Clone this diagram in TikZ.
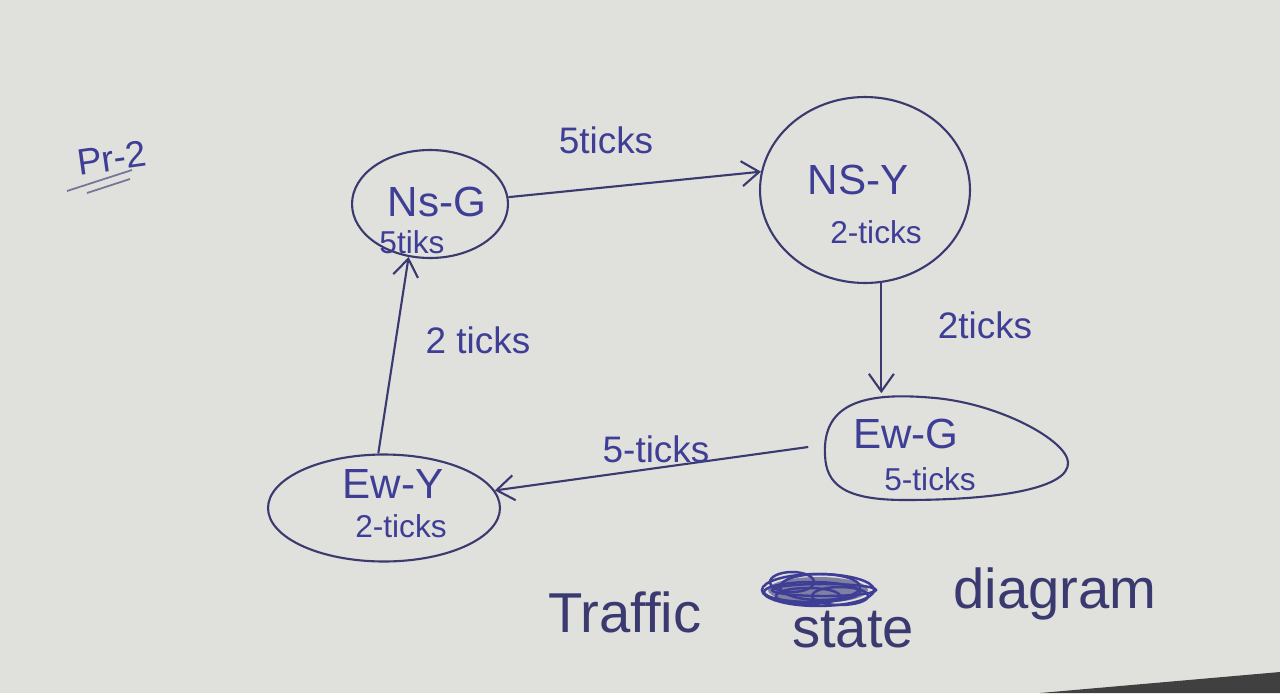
\documentclass[tikz,border=0pt]{standalone}
\usepackage{fontspec}
\setmainfont{Liberation Sans}
\usetikzlibrary{shapes.geometric,arrows.meta}
\definecolor{paper}{RGB}{224,224,220}
\definecolor{ink}{RGB}{58,58,112}
\definecolor{textink}{RGB}{62,62,150}
\tikzset{
  stateov/.style={ellipse, draw=ink, line width=1.2pt, inner sep=0pt},
  stateegg/.style={ellipse, draw=none, inner sep=0pt},
  nametxt/.style={text=textink, font=\fontsize{24}{26}\selectfont, inner sep=0pt},
  ticktxt/.style={text=textink, font=\fontsize{18}{20}\selectfont, inner sep=0pt},
  edgetxt/.style={text=textink, font=\fontsize{21}{23}\selectfont, inner sep=0pt},
  titletxt/.style={text=ink, font=\fontsize{32}{34}\selectfont, inner sep=0pt},
  flow/.style={draw=ink, line width=1.2pt, -{Straight Barb[length=3.5mm,width=5mm]}}
}
\begin{document}
\begin{tikzpicture}[x=0.02cm,y=-0.02cm]
\useasboundingbox (0,0) rectangle (1280,693);
\fill[paper] (0,0) rectangle (1280,693);
\fill[black!75] (1040,693) -- (1280,672) -- (1280,693) -- cycle;

% states
\node[stateov, minimum width=3.12cm, minimum height=2.16cm] (nsg) at (430,204) {};
\node[stateov, minimum width=4.2cm, minimum height=3.72cm] (nsy) at (865,190) {};
\node[stateegg, minimum width=4.86cm, minimum height=2.14cm] (ewg) at (945,447) {};
\draw[ink, line width=1.2pt] (825,455) .. controls (822,400) and (870,392) .. (935,398)
  .. controls (1000,404) and (1066,440) .. (1068,462)
  .. controls (1070,488) and (1000,500) .. (905,500)
  .. controls (845,500) and (826,485) .. (825,455) -- cycle;
\node[stateov, minimum width=4.64cm, minimum height=2.14cm] (ewy) at (384,508) {};

% state texts
\node[nametxt] (nsgname) at (437,202) {Ns-G};
\node[ticktxt] (nsgtick) at (412,242) {5tiks};
\node[nametxt] (nsyname) at (858,180) {NS-Y};
\node[ticktxt] (nsytick) at (876,232) {2-ticks};
\node[nametxt] (ewgname) at (906,434) {Ew-G};
\node[ticktxt] (ewgtick) at (930,479) {5-ticks};
\node[nametxt] (ewyname) at (393,484) {Ew-Y};
\node[ticktxt] (ewytick) at (401,526) {2-ticks};

% transitions
\draw[flow] (nsg.5) -- (nsy.170);
\draw[flow] (nsy.-80) -- (nsy.-80 |- ewg.north);
\draw[flow] ([xshift=-0.3cm]ewg.west) -- (ewy.9);
\draw[flow] (ewy.96) -- (nsg.-112);

% transition labels
\node[edgetxt] (l1) at (606,140) {5ticks};
\node[edgetxt] (l2) at (985,325) {2ticks};
\node[edgetxt] (l3) at (656,449) {5-ticks};
\node[edgetxt] (l4) at (478,340) {2 ticks};

% page note
\node[edgetxt, rotate=8] (pr) at (112,158) {Pr-2};
\draw[ink!70, line width=1pt] (67,191) -- (132,170);
\draw[ink!70, line width=1pt] (87,193) -- (130,179);

% title
\node[titletxt] (t1) at (625,612) {Traffic};
\begin{scope}[textink, line width=1.4pt]
\fill[textink!80!black, opacity=0.55] (818,590) ellipse (50 and 13);
\draw (818,590) ellipse (56 and 16);
\draw (812,592) ellipse (48 and 10);
\draw (820,587) ellipse (40 and 13);
\draw (808,596) ellipse (32 and 8);
\draw (824,590) ellipse (52 and 6);
\draw (792,582) ellipse (22 and 10);
\draw (840,596) ellipse (28 and 9);
\end{scope}
\node[titletxt] (t2) at (853,630) {state};
\node[titletxt] (t3) at (1055,594) {diagram};
\end{tikzpicture}
\end{document}
